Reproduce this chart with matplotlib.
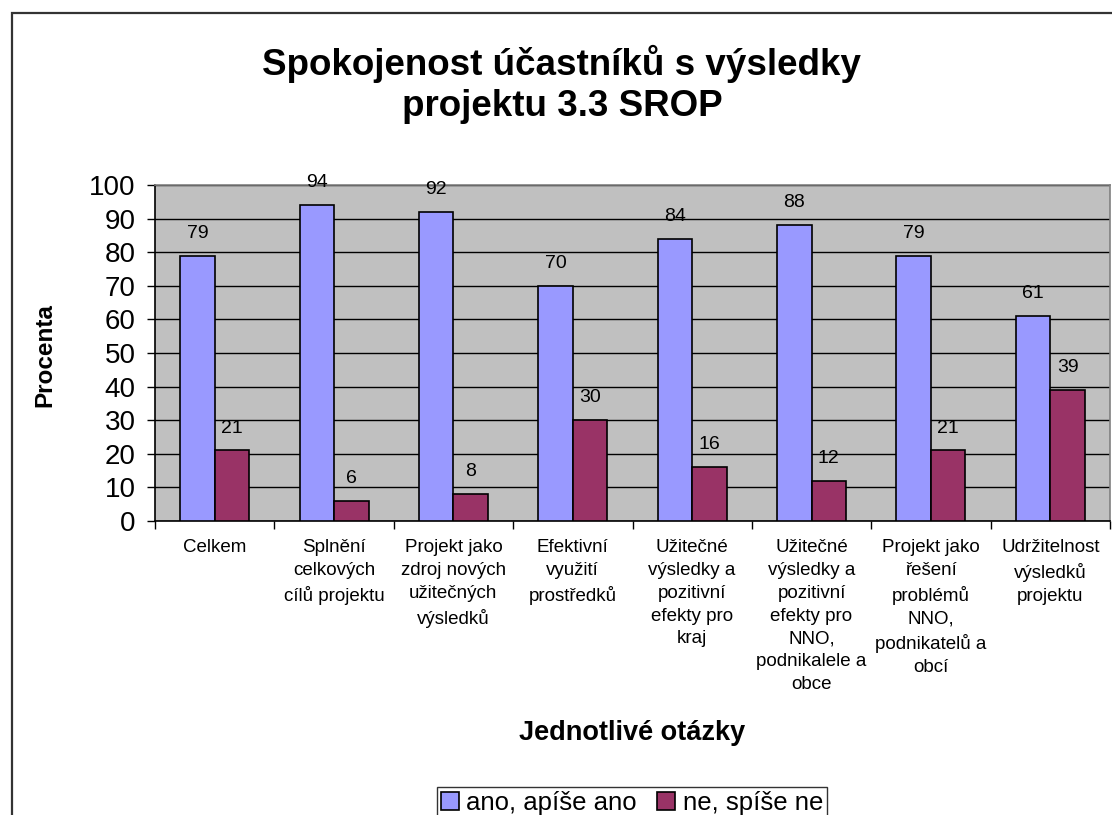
import matplotlib
matplotlib.use("Agg")
import matplotlib.pyplot as plt
import numpy as np
from matplotlib.patches import Rectangle

plt.rcParams['font.family'] = ['Liberation Sans', 'DejaVu Sans']

categories = [
    "Celkem",
    "Splnění\ncelkových\ncílů projektu",
    "Projekt jako\nzdroj nových\nužitečných\nvýsledků",
    "Efektivní\nvyužití\nprostředků",
    "Užitečné\nvýsledky a\npozitivní\nefekty pro\nkraj",
    "Užitečné\nvýsledky a\npozitivní\nefekty pro\nNNO,\npodnikalele a\nobce",
    "Projekt jako\nřešení\nproblémů\nNNO,\npodnikatelů a\nobcí",
    "Udržitelnost\nvýsledků\nprojektu",
]
ano = [79, 94, 92, 70, 84, 88, 79, 61]
ne = [21, 6, 8, 30, 16, 12, 21, 39]
series_names = ["ano, apíše ano", "ne, spíše ne"]
yticks = [0, 10, 20, 30, 40, 50, 60, 70, 80, 90, 100]

title_lines = ["Spokojenost účastníků s výsledky", "projektu 3.3 SROP"]
ylabel = "Procenta"
xlabel = "Jednotlivé otázky"

W, H = 1112, 815
fig = plt.figure(figsize=(W / 100, H / 100), dpi=100)
fig.patch.set_facecolor('white')

# outer chart border
fig.patches.append(Rectangle((12 / W, -0.05), 1.2, 1 - 13 / H + 0.05,
                             transform=fig.transFigure, fill=False,
                             edgecolor='#333333', linewidth=1.6))

ax = fig.add_axes([155 / W, 1 - 521 / H, (1110 - 155) / W, (521 - 185) / H])
ax.set_facecolor('#C0C0C0')

x = np.arange(len(categories))
bw = 0.289
b1 = ax.bar(x - bw / 2, ano, bw, color='#9999FF', edgecolor='black', linewidth=1.2,
            label=series_names[0], zorder=3)
b2 = ax.bar(x + bw / 2, ne, bw, color='#993366', edgecolor='black', linewidth=1.2,
            label=series_names[1], zorder=3)

for bars, vals in ((b1, ano), (b2, ne)):
    for r, v in zip(bars, vals):
        ax.annotate(str(v), (r.get_x() + r.get_width() / 2, r.get_height()),
                    xytext=(0, 10), textcoords='offset points',
                    ha='center', va='bottom', fontsize=14)

ax.set_ylim(0, 100)
ax.set_xlim(-0.5, len(categories) - 0.5)
ax.set_yticks(yticks)
ax.tick_params(axis='y', labelsize=20, length=6, width=1, direction='out', pad=8)
ax.yaxis.grid(True, color='black', linewidth=1)
ax.set_axisbelow(True)

ax.set_xticks(np.arange(len(categories) + 1) - 0.5)
ax.set_xticklabels([])
ax.tick_params(axis='x', which='major', length=6, width=1, direction='out')
ax.set_xticks(x, minor=True)
ax.set_xticklabels(categories, minor=True, fontsize=13.5, linespacing=1.45,
                   va='top')
ax.tick_params(axis='x', which='minor', length=0, pad=13)

for s in ('top', 'right'):
    ax.spines[s].set_color('#808080')
    ax.spines[s].set_linewidth(1.2)
for s in ('left', 'bottom'):
    ax.spines[s].set_color('black')
    ax.spines[s].set_linewidth(1.2)

fig.text(562 / W, 1 - 64 / H, title_lines[0], ha='center', va='center',
         fontsize=26.5, fontweight='bold')
fig.text(562 / W, 1 - 107 / H, title_lines[1], ha='center', va='center',
         fontsize=26.5, fontweight='bold')
fig.text(45 / W, 1 - 355 / H, ylabel, rotation=90, ha='center', va='center',
         fontsize=17.5, fontweight='bold')
fig.text(632 / W, 1 - 733 / H, xlabel, ha='center', va='center',
         fontsize=19.5, fontweight='bold')

leg = fig.legend(handles=[b1, b2], labels=series_names, loc='upper center',
                 bbox_to_anchor=(632 / W, 1 - 774 / H), ncol=2, fontsize=18.5,
                 frameon=True, fancybox=False, edgecolor='black',
                 handlelength=0.7, handleheight=0.7, handletextpad=0.3,
                 columnspacing=0.8, borderpad=0.15)
leg.get_frame().set_linewidth(1)

fig.savefig('out.png', dpi=100)
